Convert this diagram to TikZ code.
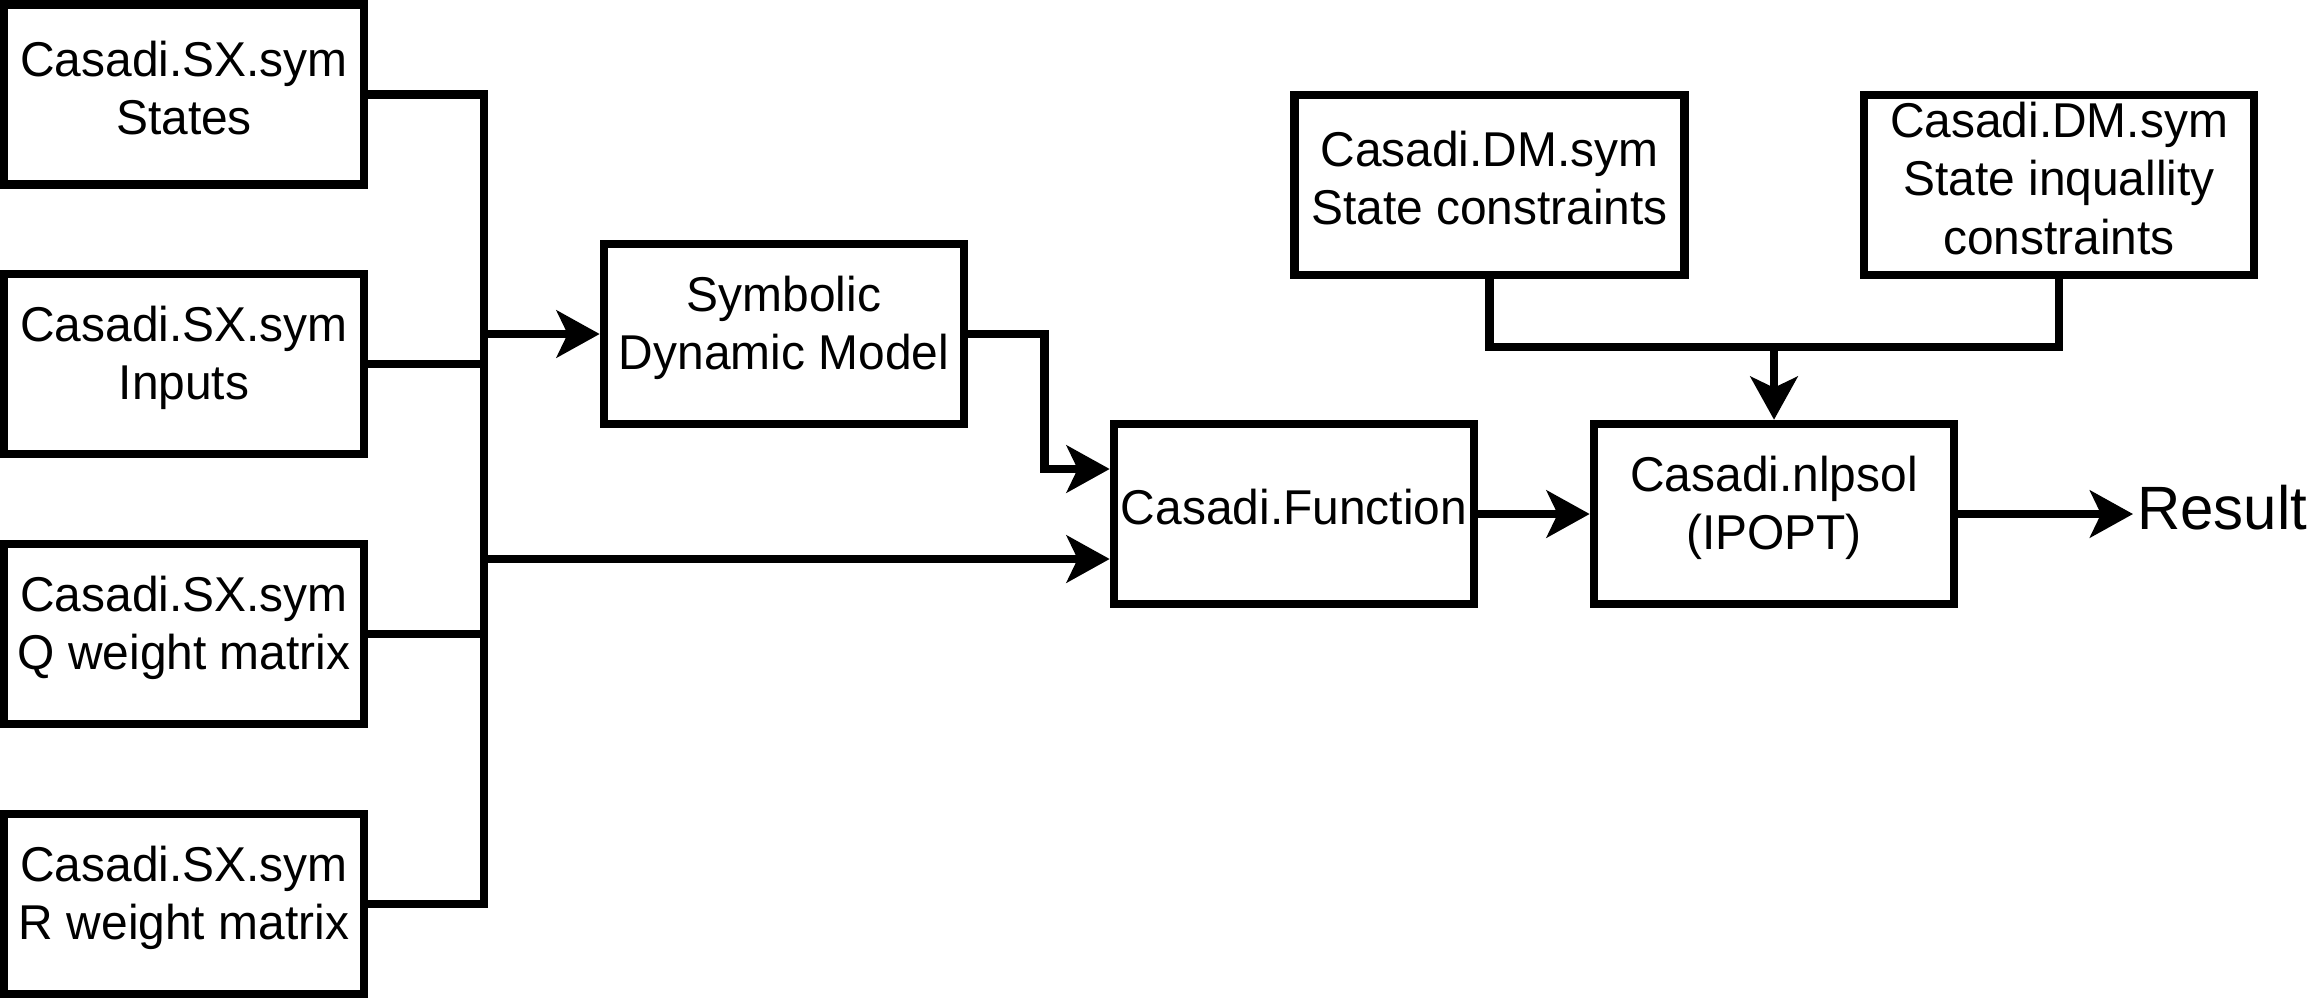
\documentclass[tikz,border=0pt]{standalone}
\usepackage{fontspec}
\setmainfont[FakeStretch=0.98]{Liberation Sans}
\usetikzlibrary{arrows.meta,calc}
\begin{document}
\begin{tikzpicture}[x=0.01cm,y=-0.01cm, line width=2.4pt,
  blk/.style={draw, rectangle, minimum width=3.6cm, minimum height=1.8cm, inner sep=0pt},
  txt/.style={align=center, inner sep=0pt, yshift=0.065cm, font=\fontsize{13.9pt}{16.5pt}\selectfont},
  wire/.style={line join=miter},
  arr/.style={line join=miter,-{Stealth[length=0.43cm,width=0.47cm,inset=0.11cm]}}]
\useasboundingbox (0,0) rectangle (2319,999);
\node[blk] (s1) at (184,94.5) {};
\node[blk] (s2) at (184,364) {};
\node[blk] (s3) at (184,634) {};
\node[blk] (s4) at (184,904) {};
\node[blk] (sym) at (784,334) {};
\node[blk] (fun) at (1294,514) {};
\node[blk] (nlp) at (1774,514) {};
\node[blk, minimum width=3.9cm] (dm1) at (1489.5,185) {};
\node[blk, minimum width=3.9cm] (dm2) at (2059,185) {};
\node[txt] (s1t) at (s1) {Casadi.SX.sym\\States};
\node[txt] (s2t) at (s2) {Casadi.SX.sym\\Inputs};
\node[txt] (s3t) at (s3) {Casadi.SX.sym\\Q weight matrix};
\node[txt] (s4t) at (s4) {Casadi.SX.sym\\R weight matrix};
\node[txt] (symt) at (sym) {Symbolic\\Dynamic Model};
\node[txt] (funt) at (fun) {Casadi.Function};
\node[txt] (nlpt) at (nlp) {Casadi.nlpsol\\(IPOPT)};
\node[txt] (dm1t) at (dm1) {Casadi.DM.sym\\State constraints};
\node[txt] (dm2t) at (dm2) {Casadi.DM.sym\\State inquallity\\constraints};
\node[anchor=west, inner sep=0pt, font=\fontsize{17.4pt}{20pt}\selectfont] (res) at (2133,508) {Result};

\coordinate (bus) at (484,0);
\draw[wire] (s1.east) -- (s1.east -| bus) -- (s4.east -| bus) -- (s4.east);
\draw[wire] (s2.east) -- (s2.east -| bus);
\draw[wire] (s3.east) -- (s3.east -| bus);
\draw[arr] (sym.west -| bus) -- (sym.west);
\coordinate (fin1) at ($(fun.west)+(0,-45)$);
\coordinate (fin2) at ($(fun.west)+(0,45)$);
\draw[arr] (fin2 -| bus) -- (fin2);
\draw[arr] (sym.east) -- ($(sym.east)+(76,0)$) |- (fin1);
\draw[arr] (fun.east) -- (nlp.west);
\coordinate (j) at ($(nlp.north)+(0,-73)$);
\draw[wire] (dm1.south) |- (j) -| (dm2.south);
\draw[arr] (j) -- (nlp.north);
\draw[arr] (nlp.east) -- (res.west |- nlp.east);
\end{tikzpicture}
\end{document}
